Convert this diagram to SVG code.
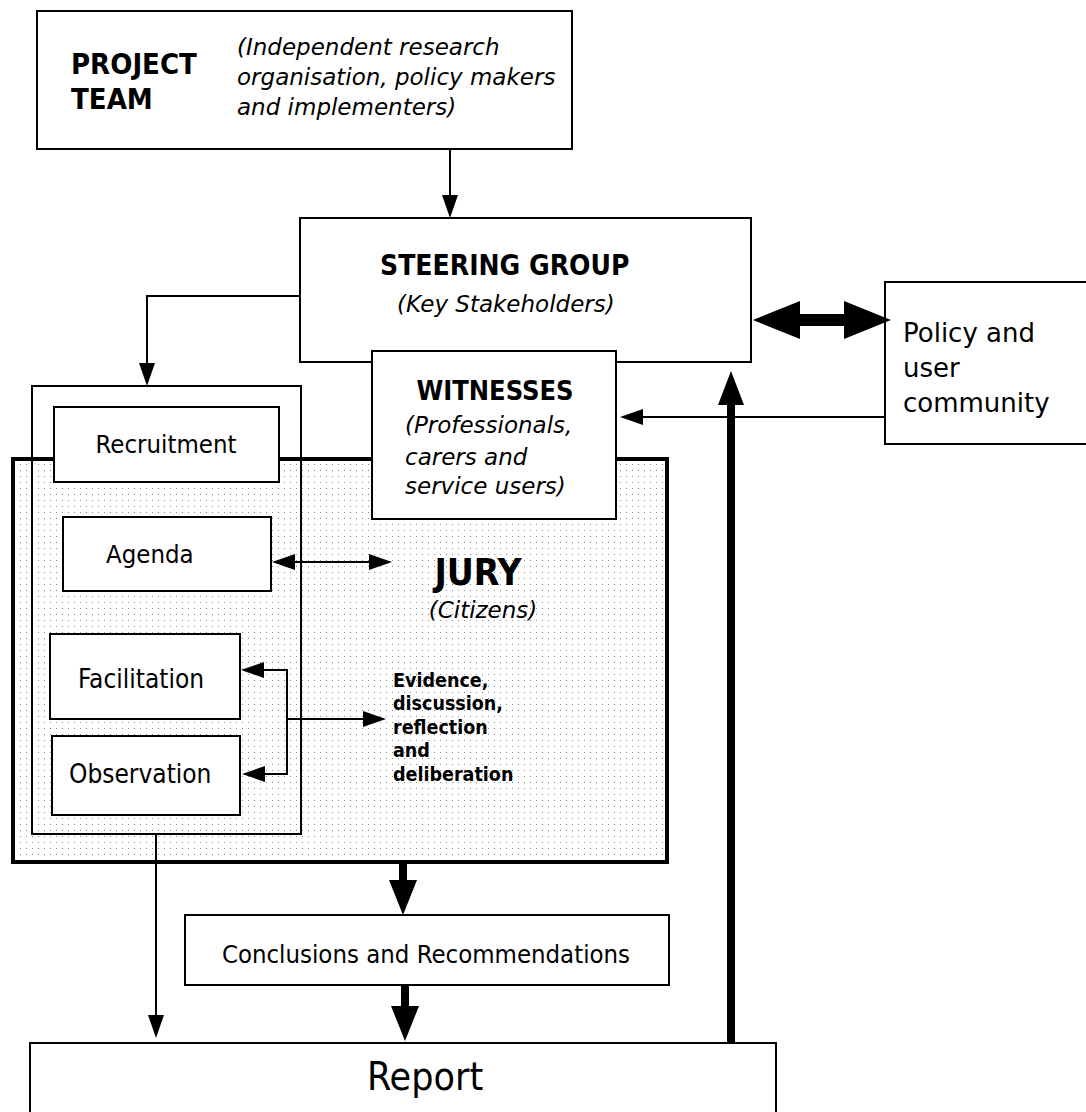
<svg xmlns="http://www.w3.org/2000/svg" width="1086" height="1112" viewBox="0 0 1086 1112">
<style>
.box{fill:#fff;stroke:#000;stroke-width:2}
.ln{fill:none;stroke:#000;stroke-width:2}
.thick{fill:none;stroke:#000;stroke-width:8}
.c{font-family:"DejaVu Sans Condensed","DejaVu Sans",sans-serif;font-stretch:condensed;fill:#000}
.v{font-family:"DejaVu Sans",sans-serif;fill:#000}
.b{font-weight:bold}
.i{font-style:italic}
.mid{text-anchor:middle}
</style>
<defs>
<pattern id="dots" width="6" height="6" patternUnits="userSpaceOnUse">
<rect width="6" height="6" fill="#fff"/>
<rect x="2" y="2" width="1" height="1" fill="#888"/>
</pattern>
<marker id="ah" markerUnits="userSpaceOnUse" markerWidth="23" markerHeight="16" refX="0" refY="8" orient="auto-start-reverse" overflow="visible">
<path d="M0,0 L23,8 L0,16 z" fill="#000"/>
</marker>
<marker id="ahT" markerUnits="userSpaceOnUse" markerWidth="35" markerHeight="28" refX="0" refY="14" orient="auto" overflow="visible">
<path d="M0,0 L35,14 L0,28 z" fill="#000"/>
</marker>
<marker id="ahU" markerUnits="userSpaceOnUse" markerWidth="34" markerHeight="26" refX="0" refY="13" orient="auto" overflow="visible">
<path d="M0,0 L34,13 L0,26 z" fill="#000"/>
</marker>
<marker id="ahF" markerUnits="userSpaceOnUse" markerWidth="47" markerHeight="38" refX="0" refY="19" orient="auto-start-reverse" overflow="visible">
<path d="M0,0 L47,19 L0,38 z" fill="#000"/>
</marker>
</defs>

<g id="jury">
<rect x="13" y="459" width="654" height="403" fill="url(#dots)" stroke="#000" stroke-width="4"/>
<text class="c b mid" x="478" y="585" font-size="37">JURY</text>
<text class="v i mid" x="483" y="618" font-size="23">(Citizens)</text>
<text class="c b" x="393" font-size="19.5"><tspan x="393" y="687">Evidence,</tspan><tspan x="393" y="710">discussion,</tspan><tspan x="393" y="734">reflection</tspan><tspan x="393" y="757">and</tspan><tspan x="393" y="781">deliberation</tspan></text>
</g>

<g id="admin">
<rect x="32" y="386" width="269" height="448" class="ln"/>
</g>

<g id="steering">
<rect x="300" y="218" width="451" height="144" class="box"/>
<text class="c b" x="380" y="275" font-size="28">STEERING GROUP</text>
<text class="v i" x="397" y="312" font-size="23">(Key Stakeholders)</text>
</g>

<g id="witnesses">
<rect x="372" y="351" width="244" height="168" class="box"/>
<text class="c b mid" x="495" y="400" font-size="27">WITNESSES</text>
<text class="v i" font-size="23"><tspan x="405" y="433">(Professionals,</tspan><tspan x="405" y="465">carers and</tspan><tspan x="405" y="494">service users)</tspan></text>
</g>

<g id="recruitment">
<rect x="54" y="407" width="225" height="75" class="box"/>
<text class="c mid" x="166" y="453" font-size="25.5">Recruitment</text>
</g>

<g id="agenda">
<rect x="63" y="517" width="208" height="74" class="box"/>
<text class="c" x="106" y="563" font-size="25.5">Agenda</text>
</g>

<g id="facilitation">
<rect x="50" y="634" width="190" height="85" class="box"/>
<text class="c" x="78" y="688" font-size="26">Facilitation</text>
</g>

<g id="observation">
<rect x="52" y="736" width="188" height="79" class="box"/>
<text class="c" x="69" y="783" font-size="26">Observation</text>
</g>

<g id="project">
<rect x="37" y="11" width="535" height="138" class="box"/>
<text class="c b" x="71" font-size="29"><tspan x="71" y="74">PROJECT</tspan><tspan x="71" y="109">TEAM</tspan></text>
<text class="v i" font-size="23"><tspan x="237" y="55">(Independent research</tspan><tspan x="237" y="85">organisation, policy makers</tspan><tspan x="237" y="115">and implementers)</tspan></text>
</g>

<g id="policy">
<rect x="885" y="282" width="210" height="162" class="box"/>
<text class="v" font-size="26"><tspan x="903" y="342">Policy and</tspan><tspan x="903" y="377">user</tspan><tspan x="903" y="412">community</tspan></text>
</g>

<g id="conclusions">
<rect x="185" y="915" width="484" height="70" class="box"/>
<text class="c mid" x="426" y="963" font-size="25.5">Conclusions and Recommendations</text>
</g>

<g id="report">
<rect x="30" y="1043" width="746" height="90" class="box"/>
<text class="c" x="367" y="1090" font-size="39">Report</text>
</g>

<g id="connectors">
<line x1="450" y1="149" x2="450" y2="195" class="ln" marker-end="url(#ah)"/>
<path d="M300,296 H147 V363" class="ln" marker-end="url(#ah)"/>
<line x1="800" y1="320" x2="844" y2="320" stroke="#000" stroke-width="12" marker-start="url(#ahF)" marker-end="url(#ahF)"/>
<line x1="885" y1="417" x2="643" y2="417" class="ln" marker-end="url(#ah)"/>
<line x1="295" y1="562" x2="369" y2="562" class="ln" marker-start="url(#ah)" marker-end="url(#ah)"/>
<path d="M264,670 H287 V774 H265" class="ln" marker-start="url(#ah)" marker-end="url(#ah)"/>
<line x1="287" y1="719" x2="363" y2="719" class="ln" marker-end="url(#ah)"/>
<line x1="156" y1="834" x2="156" y2="1015" class="ln" marker-end="url(#ah)"/>
<line x1="403" y1="862" x2="403" y2="880" class="thick" marker-end="url(#ahT)"/>
<line x1="405" y1="985" x2="405" y2="1006" class="thick" marker-end="url(#ahT)"/>
<line x1="731" y1="1043" x2="731" y2="405" class="thick" marker-end="url(#ahU)"/>
</g>
</svg>
